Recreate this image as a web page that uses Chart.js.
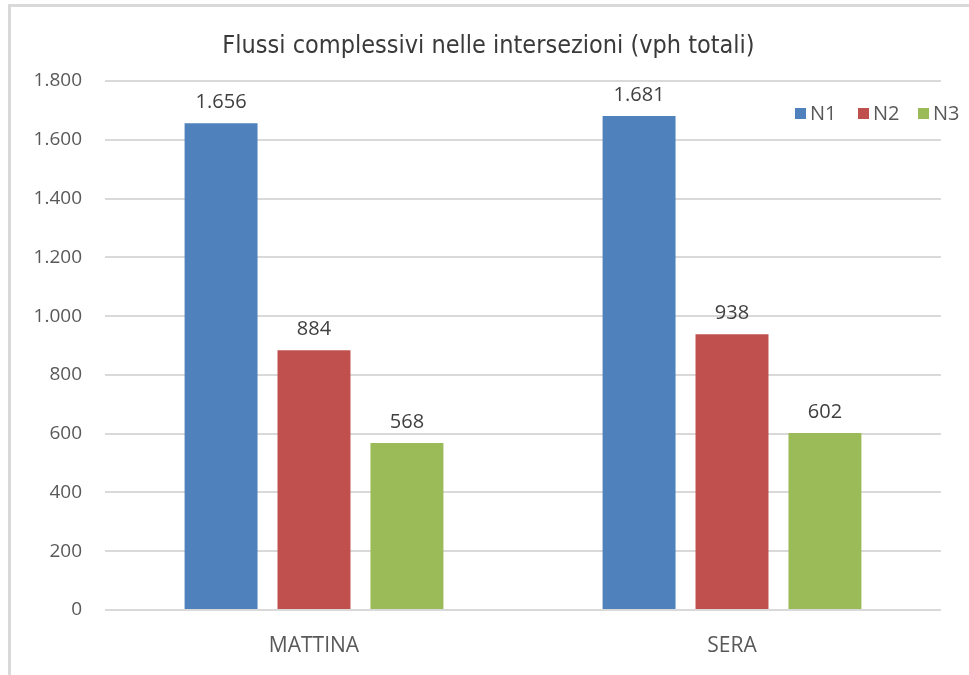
<!DOCTYPE html>
<html>
<head>
<meta charset="utf-8">
<script src="https://cdn.jsdelivr.net/npm/chart.js@4.4.1/dist/chart.umd.min.js"></script>
<style>
    html, body { margin: 0; padding: 0; background: #ffffff; }
    #frame {
        position: absolute;
        left: 8px;
        top: 4px;
        width: 961px;
        height: 671px;
        border-top: 3px solid #d9d9d9;
        border-left: 3px solid #d9d9d9;
        box-sizing: border-box;
    }
    #wrap { position: absolute; left: 0; top: 0; width: 969px; height: 675px; }
</style>
</head>
<body>
<div id="frame"></div>
<div id="wrap"><canvas id="flowChart"></canvas></div>
<script>

// ==========================================================
// Data
// ==========================================================

const chartTitle = "Flussi complessivi nelle intersezioni (vph totali)";

const periods = ["MATTINA", "SERA"];

const seriesNames = ["N1", "N2", "N3"];

const n1Values = [1656, 1681];
const n2Values = [884, 938];
const n3Values = [568, 602];

const yTicks = [0, 200, 400, 600, 800, 1000, 1200, 1400, 1600, 1800];

const seriesColors = ["#4f81bd", "#c0504d", "#9bbb59"];

function fmt(v){
    // thousands with a dot, also for 4-digit numbers
    return String(Math.round(v)).replace(/\B(?=(\d{3})+(?!\d))/g, ".");
}

// ==========================================================
// Plugins
// ==========================================================

const frameTitle = {
    id: "frameTitle",
    afterDraw(chart){
        const ctx = chart.ctx;
        ctx.save();
        ctx.font = "25px 'DejaVu Sans Condensed', 'Open Sans'";
        ctx.fillStyle = "#3a3a3a";
        ctx.textAlign = "center";
        ctx.textBaseline = "middle";
        // centred on the framed area (frame starts at x=8)
        ctx.fillText(chartTitle, (chart.width + 8) / 2, 46);
        ctx.restore();
    }
};

const valueLabels = {
    id: "valueLabels",
    afterDatasetsDraw(chart){
        const ctx = chart.ctx;
        ctx.save();
        ctx.font = "20px 'Open Sans'";
        ctx.fillStyle = "#404040";
        ctx.textAlign = "center";
        ctx.textBaseline = "bottom";
        chart.data.datasets.forEach((ds, i) => {
            chart.getDatasetMeta(i).data.forEach((bar, j) => {
                ctx.fillText(fmt(ds.data[j]), bar.x, bar.y - 11);
            });
        });
        ctx.restore();
    }
};

const cornerLegend = {
    id: "cornerLegend",
    afterDraw(chart){
        const ctx = chart.ctx;
        const startX = [795, 858, 918];
        ctx.save();
        ctx.font = "20px 'Open Sans'";
        ctx.textBaseline = "middle";
        ctx.textAlign = "left";
        chart.data.datasets.forEach((ds, i) => {
            ctx.fillStyle = ds.backgroundColor;
            ctx.fillRect(startX[i], 108, 11, 11);
            ctx.fillStyle = "#595959";
            ctx.fillText(ds.label, startX[i] + 15, 114);
        });
        ctx.restore();
    }
};

// ==========================================================
// Chart
// ==========================================================

const canvas = document.getElementById("flowChart");

const ctx = canvas.getContext("2d");

const flowChart = new Chart(ctx, {

    type: "bar",

    data: {
        labels: periods,
        datasets: [
            { label: seriesNames[0], data: n1Values, backgroundColor: seriesColors[0] },
            { label: seriesNames[1], data: n2Values, backgroundColor: seriesColors[1] },
            { label: seriesNames[2], data: n3Values, backgroundColor: seriesColors[2] }
        ]
    },

    options: {
        responsive: true,
        maintainAspectRatio: false,
        animation: false,
        categoryPercentage: 0.667,
        barPercentage: 0.785,
        layout: {
            padding: { left: 0, right: 28, top: 81, bottom: 0 }
        },
        plugins: {
            legend: { display: false },
            tooltip: { enabled: false },
            title: { display: false }
        },
        scales: {
            x: {
                afterFit(scale){ scale.height = 65; },
                grid: { display: false, drawTicks: false },
                border: { display: false },
                ticks: {
                    color: "#595959",
                    padding: 23,
                    font: { family: "'Open Sans'", size: 21 }
                }
            },
            y: {
                min: 0,
                max: 1800,
                afterFit(scale){ scale.width = 105; },
                afterBuildTicks(scale){ scale.ticks = yTicks.map(v => ({ value: v })); },
                grid: {
                    color: "#d9d9d9",
                    lineWidth: 2,
                    drawTicks: false
                },
                border: { display: false },
                ticks: {
                    color: "#595959",
                    padding: 23,
                    font: { family: "'Open Sans'", size: 19 },
                    callback: v => fmt(v)
                }
            }
        }
    },

    plugins: [frameTitle, valueLabels, cornerLegend]

});

</script>
</body>
</html>
